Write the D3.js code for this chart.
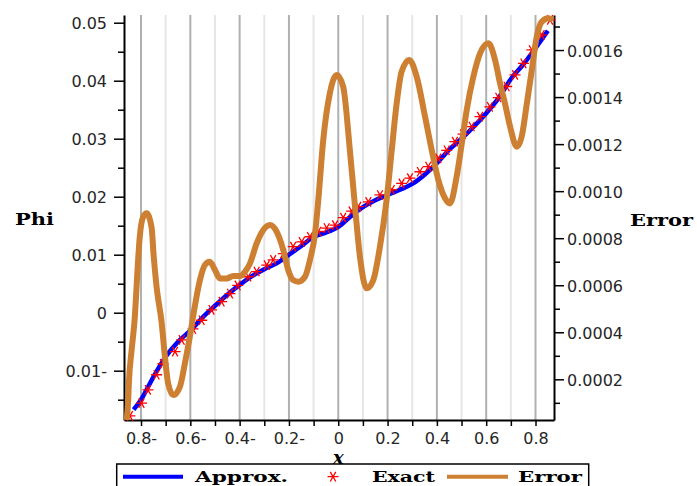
<!DOCTYPE html>
<html>
<head>
<meta charset="utf-8">
<script src="https://cdn.jsdelivr.net/npm/d3@7"></script>
<style>
  html, body { margin: 0; padding: 0; background: #fff; }
  svg { display: block; }
</style>
</head>
<body>
<svg id="chart" width="697" height="486"></svg>
<script>
// Approximate solution Phi(x)
const approxX = [-0.83, -0.80, -0.75, -0.70, -0.65, -0.60, -0.55, -0.50, -0.45, -0.40,
                 -0.35, -0.30, -0.25, -0.20, -0.15, -0.10, -0.05, 0.00, 0.05, 0.10,
                  0.15, 0.20, 0.25, 0.30, 0.35, 0.40, 0.45, 0.50, 0.55, 0.60,
                  0.65, 0.70, 0.75, 0.80, 0.85];
const approxY = [-0.0167, -0.0150, -0.0111, -0.0076, -0.0050, -0.0031, -0.0008, 0.0012, 0.0031, 0.0048,
                  0.0063, 0.0075, 0.0085, 0.0100, 0.0115, 0.0131, 0.0138, 0.0148, 0.0166, 0.0182,
                  0.0194, 0.0203, 0.0212, 0.0222, 0.0238, 0.0258, 0.0281, 0.0300, 0.0321, 0.0344,
                  0.0370, 0.0403, 0.0428, 0.0456, 0.0486];

// Exact solution samples
const exactX = [-0.845, -0.798, -0.772, -0.737, -0.711, -0.662, -0.635, -0.589, -0.554, -0.514,
                -0.473, -0.439, -0.408, -0.365, -0.331, -0.290, -0.264, -0.223, -0.183, -0.148,
                -0.115, -0.081, -0.047, -0.013, 0.020, 0.054, 0.081, 0.122, 0.169, 0.217,
                 0.257, 0.291, 0.331, 0.365, 0.406, 0.440, 0.473, 0.506, 0.541, 0.575,
                 0.615, 0.649, 0.683, 0.717, 0.751, 0.785, 0.825, 0.859];
const exactY = [-0.0178, -0.0156, -0.0133, -0.0107, -0.0088, -0.0067, -0.0047, -0.0028, -0.0013, 0.0005,
                 0.0019, 0.0033, 0.0047, 0.0062, 0.0071, 0.0082, 0.0091, 0.0102, 0.0114, 0.0122,
                 0.0131, 0.0140, 0.0146, 0.0151, 0.0164, 0.0175, 0.0183, 0.0191, 0.0203, 0.0212,
                 0.0223, 0.0232, 0.0243, 0.0252, 0.0266, 0.0280, 0.0295, 0.0308, 0.0321, 0.0338,
                 0.0355, 0.0371, 0.0390, 0.0410, 0.0430, 0.0453, 0.0479, 0.0505];

// Absolute error (right axis)
const errorX = [-0.858, -0.852, -0.849, -0.838, -0.825, -0.818, -0.811, -0.805, -0.791, -0.777,
                -0.757, -0.749, -0.737, -0.716, -0.703, -0.690, -0.669, -0.642, -0.622, -0.602,
                -0.582, -0.561, -0.541, -0.521, -0.500, -0.480, -0.453, -0.426, -0.399, -0.378,
                -0.358, -0.331, -0.304, -0.277, -0.250, -0.223, -0.203, -0.183, -0.162, -0.135,
                -0.115, -0.094, -0.081, -0.061, -0.034, -0.006, 0.020, 0.047, 0.068, 0.088,
                 0.115, 0.142, 0.169, 0.196, 0.217, 0.237, 0.257, 0.288, 0.318, 0.352,
                 0.379, 0.406, 0.433, 0.453, 0.480, 0.501, 0.521, 0.548, 0.575, 0.609,
                 0.636, 0.656, 0.676, 0.697, 0.724, 0.744, 0.765, 0.785, 0.805, 0.825,
                 0.852, 0.872];
const errorY = [0.000027, 0.000112, 0.000189, 0.000325, 0.000466, 0.000594, 0.000721, 0.000806, 0.000891, 0.000906,
                0.000845, 0.000730, 0.000594, 0.000438, 0.000296, 0.000183, 0.000133, 0.000169, 0.000268, 0.000381,
                0.000509, 0.000622, 0.000686, 0.000700, 0.000665, 0.000629, 0.000629, 0.000639, 0.000639, 0.000658,
                0.000693, 0.000778, 0.000835, 0.000856, 0.000828, 0.000750, 0.000665, 0.000622, 0.000615, 0.000636,
                0.000707, 0.000821, 0.000962, 0.001217, 0.001417, 0.001494, 0.001444, 0.001175, 0.000934, 0.000721,
                0.000587, 0.000622, 0.000764, 0.000962, 0.001175, 0.001374, 0.001508, 0.001558, 0.001487, 0.001317,
                0.001175, 0.001047, 0.000970, 0.000948, 0.001061, 0.001203, 0.001345, 0.001487, 0.001586, 0.001629,
                0.001558, 0.001459, 0.001374, 0.001274, 0.001189, 0.001232, 0.001374, 0.001515, 0.001657, 0.001720,
                0.001735, 0.001728];

// Tick values
const xTicks = [-0.8, -0.6, -0.4, -0.2, 0, 0.2, 0.4, 0.6, 0.8];
const xMinorTicks = [-0.7, -0.5, -0.3, -0.1, 0.1, 0.3, 0.5, 0.7];
const phiTicks = [-0.01, 0, 0.01, 0.02, 0.03, 0.04, 0.05];
const phiMinorTicks = [-0.015, -0.005, 0.005, 0.015, 0.025, 0.035, 0.045];
const errTicks = [0.0002, 0.0004, 0.0006, 0.0008, 0.0010, 0.0012, 0.0014, 0.0016];
const errMinorTicks = [0.0001, 0.0003, 0.0005, 0.0007, 0.0009, 0.0011, 0.0013, 0.0015, 0.0017];

const legendLabels = ["Approx.", "Exact", "Error"];
const colors = { approx: "#0000ff", exact: "#ff0000", error: "#cd7f32" };

const svg = d3.select("#chart");

const x = d3.scaleLinear().domain([-0.869, 0.875]).range([124, 554]);
const yPhi = d3.scaleLinear().domain([-0.0185, 0.05133]).range([420, 15]);
const yErr = d3.scaleLinear().domain([0.000027, 0.001749]).range([420, 15]);

// Negative numbers are written with a trailing minus sign
const signed = (digits) => (d) => {
  if (d === 0) return "0";
  const s = Math.abs(d).toFixed(digits);
  return d < 0 ? s + "-" : s;
};

// Vertical grid lines
const grid = svg.append("g");
grid.selectAll("line.minor").data(xMinorTicks).join("line")
  .attr("class", "minor")
  .attr("x1", d => x(d)).attr("x2", d => x(d))
  .attr("y1", 15).attr("y2", 420)
  .attr("stroke", "#e6e6e6").attr("stroke-width", 2);
grid.selectAll("line.major").data(xTicks).join("line")
  .attr("class", "major")
  .attr("x1", d => x(d)).attr("x2", d => x(d))
  .attr("y1", 15).attr("y2", 420)
  .attr("stroke", "#b0b0b0").attr("stroke-width", 2);

// Axes
function styleAxis(g) {
  g.selectAll("path.domain").attr("stroke", "#000").attr("stroke-width", 2);
  g.selectAll(".tick line").attr("stroke", "#000").attr("stroke-width", 1.5);
  g.selectAll(".tick text")
    .attr("font-family", "'DejaVu Sans', sans-serif")
    .attr("font-size", 16)
    .attr("fill", "#262626");
}

svg.append("g").attr("transform", "translate(0,420)")
  .call(d3.axisBottom(x).tickValues(xMinorTicks).tickSize(6).tickFormat(""))
  .call(g => g.select(".domain").remove())
  .call(styleAxis);
svg.append("g").attr("transform", "translate(0,420)")
  .call(d3.axisBottom(x).tickValues(xTicks).tickSize(6).tickSizeOuter(0).tickPadding(7).tickFormat(signed(1)))
  .call(styleAxis);

svg.append("g").attr("transform", "translate(124,0)")
  .call(d3.axisLeft(yPhi).tickValues(phiMinorTicks).tickSize(6).tickFormat(""))
  .call(g => g.select(".domain").remove())
  .call(styleAxis);
svg.append("g").attr("transform", "translate(124,0)")
  .call(d3.axisLeft(yPhi).tickValues(phiTicks).tickSize(10).tickSizeOuter(0).tickPadding(7).tickFormat(signed(2)))
  .call(styleAxis)
  .call(g => g.selectAll(".tick text").attr("dy", "0.38em"));

svg.append("g").attr("transform", "translate(554,0)")
  .call(d3.axisRight(yErr).tickValues(errMinorTicks).tickSize(6).tickFormat(""))
  .call(g => g.select(".domain").remove())
  .call(styleAxis);
svg.append("g").attr("transform", "translate(554,0)")
  .call(d3.axisRight(yErr).tickValues(errTicks).tickSize(10).tickSizeOuter(0).tickPadding(3).tickFormat(d3.format(".4f")))
  .call(styleAxis)
  .call(g => g.selectAll(".tick text").attr("dy", "0.38em"));

// Approximate solution
const approxData = approxX.map((v, i) => [v, approxY[i]]);
svg.append("path")
  .datum(approxData)
  .attr("fill", "none")
  .attr("stroke", colors.approx)
  .attr("stroke-width", 4.5)
  .attr("d", d3.line().x(d => x(d[0])).y(d => yPhi(d[1])).curve(d3.curveMonotoneX));

// Exact solution markers
const star = d3.symbol().type(d3.symbolAsterisk).size(85);
const exactData = exactX.map((v, i) => [v, exactY[i]]);
svg.append("g").selectAll("path").data(exactData).join("path")
  .attr("d", star)
  .attr("transform", d => `translate(${x(d[0])},${yPhi(d[1])}) rotate(90)`)
  .attr("fill", "none")
  .attr("stroke", colors.exact)
  .attr("stroke-width", 1.3);

// Error curve on the right axis
const errorData = errorX.map((v, i) => [v, errorY[i]]);
svg.append("path")
  .datum(errorData)
  .attr("fill", "none")
  .attr("stroke", colors.error)
  .attr("stroke-width", 6)
  .attr("stroke-linejoin", "round")
  .attr("d", d3.line().x(d => x(d[0])).y(d => yErr(d[1])).curve(d3.curveMonotoneX));

// Axis titles
const titleFont = "'DejaVu Serif', serif";
svg.append("text").text("Phi")
  .attr("x", 15).attr("y", 225)
  .attr("font-family", titleFont).attr("font-weight", "bold").attr("font-size", 17)
  .attr("textLength", 39).attr("lengthAdjust", "spacingAndGlyphs");
svg.append("text").text("Error")
  .attr("x", 630).attr("y", 226)
  .attr("font-family", titleFont).attr("font-weight", "bold").attr("font-size", 17)
  .attr("textLength", 63).attr("lengthAdjust", "spacingAndGlyphs");
svg.append("text").text("x")
  .attr("x", x(0)).attr("y", 463.5).attr("text-anchor", "middle")
  .attr("font-family", titleFont).attr("font-weight", "bold").attr("font-style", "italic")
  .attr("font-size", 18);

// Legend
const legend = svg.append("g");
legend.append("rect")
  .attr("x", 116.7).attr("y", 464).attr("width", 472).attr("height", 40)
  .attr("fill", "#fff").attr("stroke", "#000").attr("stroke-width", 1.5);
const ly = 476.7;
legend.append("line").attr("x1", 123).attr("x2", 183).attr("y1", ly).attr("y2", ly)
  .attr("stroke", colors.approx).attr("stroke-width", 4);
legend.append("path").attr("d", star)
  .attr("transform", `translate(333,${ly}) rotate(90)`)
  .attr("fill", "none").attr("stroke", colors.exact).attr("stroke-width", 1.3);
legend.append("line").attr("x1", 447).attr("x2", 508).attr("y1", ly).attr("y2", ly)
  .attr("stroke", colors.error).attr("stroke-width", 4);
const legendText = [
  { label: legendLabels[0], x: 195, w: 93 },
  { label: legendLabels[1], x: 372, w: 63 },
  { label: legendLabels[2], x: 518, w: 64 }
];
legend.selectAll("text").data(legendText).join("text")
  .text(d => d.label)
  .attr("x", d => d.x).attr("y", 481.5)
  .attr("font-family", titleFont).attr("font-weight", "bold").attr("font-size", 15.5)
  .attr("textLength", d => d.w).attr("lengthAdjust", "spacingAndGlyphs");
</script>
</body>
</html>
